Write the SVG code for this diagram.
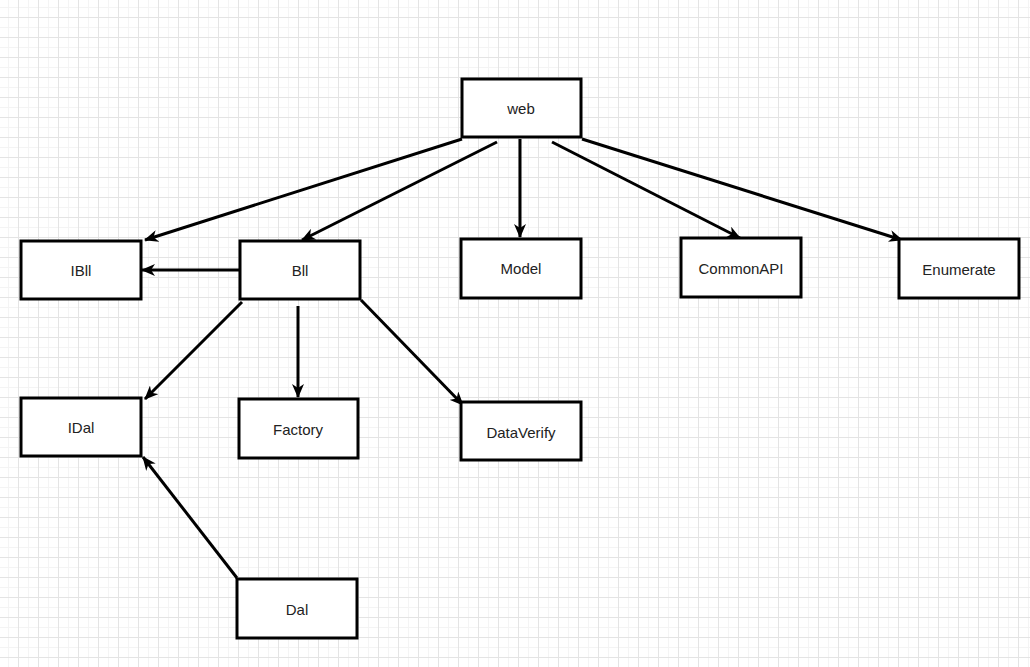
<svg xmlns="http://www.w3.org/2000/svg" width="1030" height="667" viewBox="0 0 1030 667">
  <defs>
    <pattern id="minor" x="8" y="7" width="10" height="10" patternUnits="userSpaceOnUse">
      <path d="M0,0.5 H10 M0.5,0 V10" stroke="#f4f4f4" stroke-width="1" fill="none"/>
    </pattern>
    <pattern id="major" x="18" y="17" width="20" height="20" patternUnits="userSpaceOnUse">
      <path d="M0,0.5 H20 M0.5,0 V20" stroke="#e4e4e4" stroke-width="1" fill="none"/>
    </pattern>
    <marker id="arr" viewBox="0 0 14 12" refX="13" refY="6" markerWidth="14" markerHeight="12" markerUnits="userSpaceOnUse" orient="auto">
      <path d="M0,0 L14,6 L0,12 L4,6 z" fill="#000"/>
    </marker>
    <style>
      .box { fill: #fff; stroke: #000; stroke-width: 3; }
      .lbl { font-family: "Liberation Sans", Arial, sans-serif; font-size: 15px; fill: #222; text-anchor: middle; dominant-baseline: central; }
      .edge { stroke: #000; stroke-width: 3; fill: none; marker-end: url(#arr); }
    </style>
  </defs>
  <rect width="1030" height="667" fill="#fff"/>
  <rect width="1030" height="667" fill="url(#minor)"/>
  <rect width="1030" height="667" fill="url(#major)"/>

  <g id="connectors">
    <line class="edge" x1="462" y1="139" x2="145" y2="240"/>
    <line class="edge" x1="497" y1="142" x2="302" y2="240"/>
    <line class="edge" x1="520" y1="139" x2="520" y2="237"/>
    <line class="edge" x1="552" y1="142" x2="740" y2="238"/>
    <line class="edge" x1="582" y1="139" x2="902" y2="240"/>
    <line class="edge" x1="240" y1="270" x2="142" y2="270"/>
    <line class="edge" x1="242" y1="302" x2="145" y2="399"/>
    <line class="edge" x1="298" y1="306" x2="298" y2="397"/>
    <line class="edge" x1="361" y1="300" x2="463" y2="405"/>
    <line class="edge" x1="237" y1="578" x2="143" y2="457"/>
  </g>

  <g id="web"><rect class="box" x="462" y="79" width="119" height="58"/><text class="lbl" x="521" y="108">web</text></g>
  <g id="IBll"><rect class="box" x="21" y="241" width="120" height="58"/><text class="lbl" x="81" y="270">IBll</text></g>
  <g id="Bll"><rect class="box" x="240" y="241" width="120" height="58"/><text class="lbl" x="300" y="270">Bll</text></g>
  <g id="Model"><rect class="box" x="461" y="239" width="120" height="59"/><text class="lbl" x="521" y="268">Model</text></g>
  <g id="CommonAPI"><rect class="box" x="681" y="238" width="120" height="59"/><text class="lbl" x="741" y="268">CommonAPI</text></g>
  <g id="Enumerate"><rect class="box" x="899" y="239" width="120" height="59"/><text class="lbl" x="959" y="269">Enumerate</text></g>
  <g id="IDal"><rect class="box" x="21" y="398" width="120" height="58"/><text class="lbl" x="81" y="427">IDal</text></g>
  <g id="Factory"><rect class="box" x="239" y="399" width="119" height="59"/><text class="lbl" x="298" y="429">Factory</text></g>
  <g id="DataVerify"><rect class="box" x="461" y="402" width="120" height="58"/><text class="lbl" x="521" y="432">DataVerify</text></g>
  <g id="Dal"><rect class="box" x="237" y="579" width="120" height="59"/><text class="lbl" x="297" y="609">Dal</text></g>
</svg>
